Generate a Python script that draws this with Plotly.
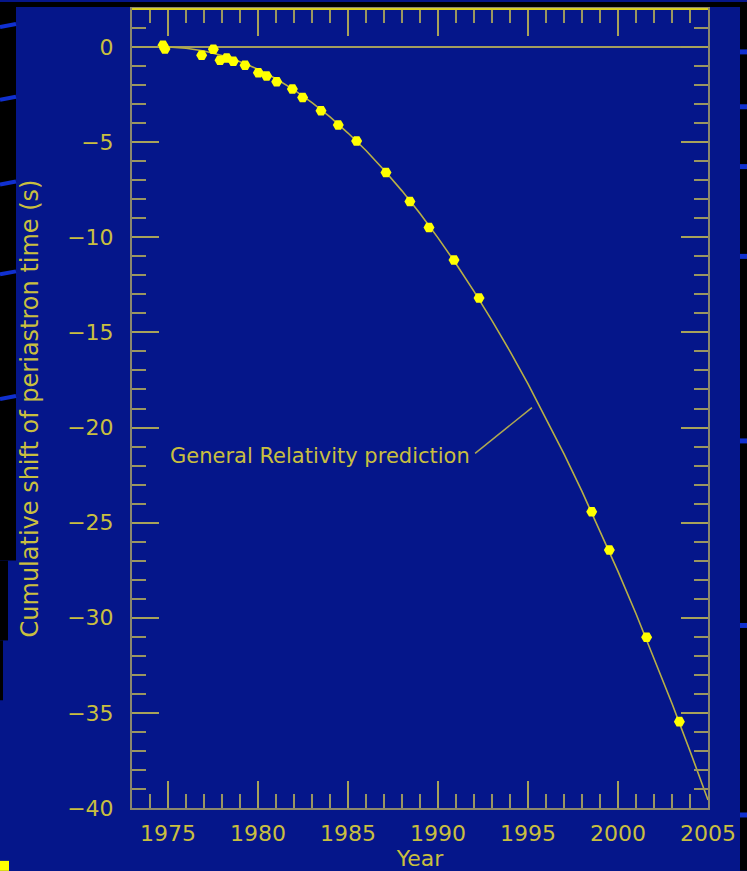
import plotly.graph_objects as go

# Observed data (year, cumulative periastron shift in seconds)
obs_year = [1974.72, 1974.83, 1976.87, 1977.52, 1977.89, 1978.26, 1978.63, 1979.28,
            1980.02, 1980.48, 1981.04, 1981.91, 1982.48, 1983.50, 1984.46, 1985.48,
            1987.11, 1988.44, 1989.50, 1990.89, 1992.28, 1998.54, 1999.52, 2001.59,
            2003.41]
obs_shift = [0.10, -0.10, -0.43, -0.12, -0.70, -0.58, -0.75, -0.96,
             -1.35, -1.52, -1.83, -2.21, -2.65, -3.35, -4.10, -4.94,
             -6.60, -8.12, -9.48, -11.20, -13.19, -24.43, -26.44, -31.03,
             -35.46]

# General Relativity prediction curve
gr_year = [1975, 1976, 1977, 1978, 1979, 1980, 1981, 1982, 1983, 1984, 1985,
           1986, 1987, 1988, 1989, 1990, 1991, 1992, 1993, 1994, 1995, 1996,
           1997, 1998, 1999, 2000, 2001, 2002, 2003, 2004, 2005]
gr_shift = [0.00, -0.06, -0.21, -0.44, -0.77, -1.17, -1.67, -2.25, -2.92, -3.67, -4.52,
            -5.44, -6.46, -7.56, -8.75, -10.03, -11.39, -12.84, -14.38, -16.00, -17.71, -19.51,
            -21.39, -23.36, -25.42, -27.56, -29.79, -32.11, -34.51, -37.00, -39.58]

x_ticks = [1975, 1980, 1985, 1990, 1995, 2000, 2005]
y_ticks = [0, -5, -10, -15, -20, -25, -30, -35, -40]

BG = "#05168a"
TXT = "#c9bf3f"
AXC = "#8a876e"
TICKC = "#a8a25a"
FONT = "DejaVu Sans"

W, H = 747, 871
L, R, T, B = 132, 39, 7, 63
PW, PH = W - L - R, H - T - B


def px(xp):
    return (xp - L) / PW


def py(yp):
    return (H - B - yp) / PH


fig = go.Figure()
fig.add_trace(go.Scatter(x=gr_year, y=gr_shift, mode="lines",
                         line=dict(color="#b9b045", width=1.6), hoverinfo="skip",
                         showlegend=False))
fig.add_trace(go.Scatter(x=obs_year, y=obs_shift, mode="markers",
                         marker=dict(color="#ffff00", size=11, symbol="hexagon2",
                                     line=dict(width=0)),
                         showlegend=False))

axis_common = dict(
    showgrid=False, ticks="inside", ticklen=27, tickwidth=2, tickcolor=TICKC,
    showline=True, linecolor=AXC, linewidth=2, mirror="ticks",
    tickfont=dict(family=FONT, size=22, color=TXT),
)

fig.update_xaxes(range=[1973, 2005], tickvals=x_ticks, ticktext=[str(v) for v in x_ticks],
                 minor=dict(dtick=1, tick0=1973, ticks="inside", ticklen=14, tickwidth=2,
                            tickcolor="#9a9660"),
                 title=dict(text="Year", font=dict(family=FONT, size=22, color=TXT), standoff=1),
                 ticklabelstandoff=5, zeroline=False, **axis_common)
fig.update_yaxes(range=[-40, 2], tickvals=y_ticks,
                 minor=dict(dtick=1, tick0=0, ticks="inside", ticklen=14, tickwidth=2,
                            tickcolor="#9a9660"),
                 title=dict(text="Cumulative shift of periastron time (s)",
                            font=dict(family=FONT, size=24, color=TXT), standoff=22),
                 ticklabelstandoff=12, zeroline=True, zerolinecolor="#a39d5e",
                 zerolinewidth=2, **axis_common)

# top yellow frame line
shapes = [dict(type="line", xref="paper", yref="paper", x0=0, x1=1, y0=1, y1=1,
               line=dict(color="#d8d020", width=2))]

# GR pointer line
shapes.append(dict(type="line", xref="x", yref="y", x0=1992.06, y0=-21.36, x1=1995.22, y1=-18.95,
                   line=dict(color="#b0a850", width=1.5)))

# slide decoration: black edges and blue streaks
def rect(x0, y0, x1, y1, color):
    return dict(type="rect", xref="paper", yref="paper", x0=px(x0), x1=px(x1),
                y0=py(y1), y1=py(y0), fillcolor=color, line=dict(width=0), layer="below")

shapes += [
    rect(0, 0, W, 5, "black"),
    rect(0, 0, 16, 560, "black"),
    rect(0, 560, 8, 640, "black"),
    rect(0, 640, 3, 700, "black"),
    rect(740, 0, W, H, "black"),
    rect(0, 861, 9, H, "#ffff00"),
]
for yy in [22, 95, 180, 270, 395]:
    shapes.append(dict(type="line", xref="paper", yref="paper", x0=px(0), x1=px(16),
                       y0=py(yy + 3), y1=py(yy), line=dict(color="#1030d0", width=4), layer="below"))
for yy in [50, 105, 165, 255, 440, 625, 815]:
    shapes.append(dict(type="line", xref="paper", yref="paper", x0=px(740), x1=px(W),
                       y0=py(yy), y1=py(yy), line=dict(color="#1030d0", width=5), layer="below"))

fig.update_layout(
    width=W, height=H,
    margin=dict(l=L, r=R, t=T, b=B),
    paper_bgcolor=BG, plot_bgcolor=BG,
    shapes=shapes,
    annotations=[dict(x=1991.9, y=-21.5, xref="x", yref="y", xanchor="right", yanchor="middle",
                      text="General Relativity prediction", showarrow=False,
                      font=dict(family=FONT, size=21, color=TXT))],
)

fig.write_html("out.html")
